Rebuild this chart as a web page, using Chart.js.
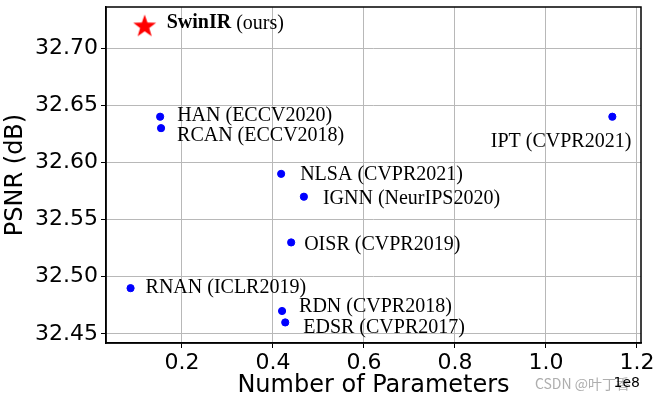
<!DOCTYPE html>
<html>
<head>
<meta charset="utf-8">
<script src="https://cdn.jsdelivr.net/npm/chart.js@4"></script>
<style>
  body { margin: 0; background: #fff; }
</style>
</head>
<body>
<canvas id="myChart" width="655" height="400"></canvas>
<script>
// data (params in units of 1e8)
const names = ["HAN (ECCV2020)", "RCAN (ECCV2018)", "NLSA (CVPR2021)", "IGNN (NeurIPS2020)",
  "OISR (CVPR2019)", "RNAN (ICLR2019)", "RDN (CVPR2018)", "EDSR (CVPR2017)", "IPT (CVPR2021)"];
const params = [0.152, 0.154, 0.418, 0.468, 0.440, 0.087, 0.420, 0.427, 1.146];
const psnr = [32.64, 32.63, 32.59, 32.57, 32.53, 32.49, 32.47, 32.46, 32.64];

const oursName = "SwinIR";
const oursParams = [0.118];
const oursPsnr = [32.72];

const xTicks = [0.2, 0.4, 0.6, 0.8, 1.0, 1.2];
const yTicks = [32.45, 32.50, 32.55, 32.60, 32.65, 32.70];

// label offsets (px) from each point
const labelDx = [17, 16, 19, 19, 13, 15, 17, 18, 19];
const labelDy = [-1, 8, 1, 2, 2, 0, -4, 5, 25];
const labelAlign = ["left", "left", "left", "left", "left", "left", "left", "left", "right"];

// red filled star marker
function makeStar(r) {
  const c = document.createElement("canvas");
  c.width = c.height = r * 2 + 2;
  const ctx = c.getContext("2d");
  ctx.fillStyle = "#ff0000";
  ctx.beginPath();
  for (let i = 0; i < 10; i++) {
    const rad = i % 2 === 0 ? r : r * 0.4;
    const a = -Math.PI / 2 + i * Math.PI / 5;
    const x = r + 1 + rad * Math.cos(a);
    const y = r + 1 + rad * Math.sin(a) + r * 0.1;
    if (i === 0) ctx.moveTo(x, y); else ctx.lineTo(x, y);
  }
  ctx.closePath();
  ctx.fill();
  return c;
}

const labelPlugin = {
  id: "pointLabels",
  afterDatasetsDraw(chart) {
    const ctx = chart.ctx;
    const meta = chart.getDatasetMeta(0);
    ctx.save();
    ctx.fillStyle = "#000";
    ctx.textBaseline = "middle";
    ctx.font = "20px 'Liberation Serif'";
    meta.data.forEach((pt, i) => {
      ctx.textAlign = labelAlign[i];
      ctx.fillText(names[i], pt.x + labelDx[i], pt.y + labelDy[i]);
    });
    const star = chart.getDatasetMeta(1).data[0];
    ctx.textAlign = "left";
    ctx.font = "bold 20px 'Liberation Serif'";
    const sx = star.x + 22;
    const sy = star.y - 2;
    ctx.fillText(oursName, sx, sy);
    const w = ctx.measureText(oursName + " ").width;
    ctx.font = "20px 'Liberation Serif'";
    ctx.fillText("(ours)", sx + w, sy);
    ctx.restore();
  },
  afterDraw(chart) {
    const ctx = chart.ctx;
    const a = chart.chartArea;
    ctx.save();
    // full box around the plot
    ctx.strokeStyle = "#000";
    ctx.lineWidth = 1.5;
    ctx.strokeRect(a.left, a.top, a.right - a.left, a.bottom - a.top);
    ctx.textBaseline = "middle";
    ctx.font = "14px 'Noto Sans CJK SC'";
    ctx.fillStyle = "rgba(160,160,160,0.85)";
    ctx.textAlign = "right";
    ctx.fillText("CSDN @叶丁香", 630, 384);
    ctx.fillStyle = "#000";
    ctx.font = "14px 'DejaVu Sans'";
    ctx.fillText("1e8", 640, 383);
    ctx.restore();
  }
};

const config = {
  type: "scatter",
  data: {
    datasets: [
      {
        data: params.map((p, i) => ({ x: p, y: psnr[i] })),
        backgroundColor: "#0000ff",
        borderColor: "#0000ff",
        pointRadius: 3.6,
        pointHoverRadius: 3.6,
      },
      {
        data: oursParams.map((p, i) => ({ x: p, y: oursPsnr[i] })),
        pointStyle: makeStar(12),
      },
    ],
  },
  options: {
    responsive: false,
    animation: false,
    events: [],
    layout: { padding: { top: 7, right: 14, left: 0, bottom: 0 } },
    plugins: { legend: { display: false }, tooltip: { enabled: false } },
    scales: {
      x: {
        type: "linear",
        min: 0.033,
        max: 1.209,
        afterBuildTicks: (s) => { s.ticks = xTicks.map((v) => ({ value: v })); },
        afterFit: (s) => { s.height = 57; s.paddingLeft = 0; s.paddingRight = 0; },
        border: { color: "#000", width: 1.5 },
        grid: { color: "#b8b8b8", lineWidth: 1, tickColor: "#000", tickLength: 5 },
        ticks: {
          color: "#000",
          padding: 2,
          maxRotation: 0,
          font: { family: "'DejaVu Sans'", size: 22 },
          callback: (v) => v.toFixed(1),
        },
        title: {
          display: true,
          text: "Number of Parameters",
          color: "#000",
          padding: { top: 0, bottom: 0 },
          font: { family: "'DejaVu Sans'", size: 24 },
        },
      },
      y: {
        type: "linear",
        min: 32.442,
        max: 32.736,
        afterBuildTicks: (s) => { s.ticks = yTicks.map((v) => ({ value: v })); },
        afterFit: (s) => { s.width = 106; s.paddingTop = 0; s.paddingBottom = 0; },
        border: { color: "#000", width: 1.5 },
        grid: { color: "#b8b8b8", lineWidth: 1, tickColor: "#000", tickLength: 5 },
        ticks: {
          color: "#000",
          padding: 3,
          font: { family: "'DejaVu Sans'", size: 22 },
          callback: (v) => v.toFixed(2),
        },
        title: {
          display: true,
          text: "PSNR (dB)",
          color: "#000",
          padding: { top: 1, bottom: 0 },
          font: { family: "'DejaVu Sans'", size: 24 },
        },
      },
    },
  },
  plugins: [labelPlugin],
};

const myChart = new Chart(document.getElementById("myChart"), config);
</script>
</body>
</html>
